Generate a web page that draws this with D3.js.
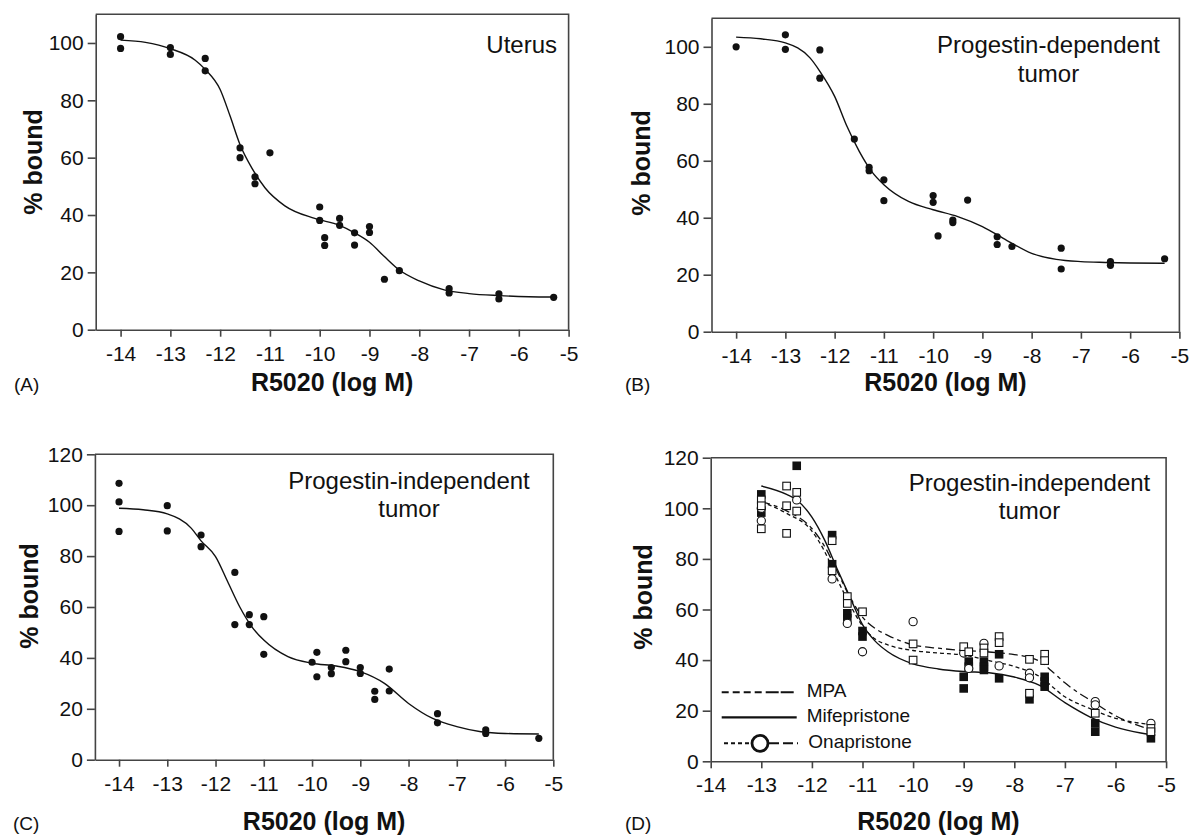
<!DOCTYPE html>
<html><head><meta charset="utf-8">
<script src="https://cdn.jsdelivr.net/npm/d3@7"></script>
<style>
body{margin:0;background:#fff}
text{font-family:"Liberation Sans",Arial,Helvetica,sans-serif;fill:#111}
</style>
</head><body>
<svg id="chart" width="1190" height="835"></svg>
<script>
// ---------------- data ----------------
const xTickValues = [-14,-13,-12,-11,-10,-9,-8,-7,-6,-5];
const yTicks100 = [0,20,40,60,80,100];
const yTicks120 = [0,20,40,60,80,100,120];
const xTitle = "R5020 (log M)";
const yTitle = "% bound";

const uterusPoints = [[-14,102.2],[-14,98.1],[-13,98.4],[-13,96.0],[-12.3,94.6],[-12.3,90.3],
 [-11.6,63.4],[-11.6,60.0],[-11.3,53.3],[-11.3,50.9],[-11,61.7],[-10,42.8],[-10,38.1],
 [-9.9,32.1],[-9.9,29.4],[-9.6,38.8],[-9.6,36.4],[-9.3,33.8],[-9.3,29.5],[-9,36.0],[-9,33.9],
 [-8.7,17.6],[-8.4,20.6],[-7.4,14.3],[-7.4,12.8],[-6.4,12.5],[-6.4,10.7],[-5.3,11.3]];
const uterusCurve = [[-14,101.0],[-13.5,100.2],[-13,98.0],[-12.5,94.0],[-12.3,90.8],[-12.0,83.8],
 [-11.8,74.5],[-11.6,64.5],[-11.35,56],[-11.1,49.5],[-10.7,43.2],[-10.1,38.8],[-9.6,36.4],
 [-9.3,33.8],[-9.0,30.5],[-8.7,25.5],[-8.4,20.8],[-8.0,17.0],[-7.5,13.9],[-7.0,12.6],[-6.4,11.9],
 [-5.8,11.5],[-5.3,11.4]];

const pdPoints = [[-14,100],[-13,104.2],[-13,99.1],[-12.3,98.9],[-12.3,89.0],[-11.6,67.6],
 [-11.3,57.7],[-11.3,56.5],[-11,53.3],[-11,46.0],[-10,47.8],[-10,45.4],[-9.9,33.6],[-9.6,39.2],
 [-9.6,38.3],[-9.3,46.2],[-8.7,33.3],[-8.7,30.6],[-8.4,29.9],[-7.4,29.3],[-7.4,22.0],[-6.4,24.6],
 [-6.4,23.3],[-5.3,25.6]];
const pdCurve = [[-14,103.4],[-13.5,102.8],[-13,101.4],[-12.5,96.1],[-12.3,91.4],[-12,82.6],
 [-11.75,72.1],[-11.5,63.3],[-11.25,56.3],[-11,51.6],[-10.5,45.7],[-10,42.8],[-9.5,40.4],
 [-9,36.9],[-8.5,32.0],[-8,27.5],[-7.5,25.4],[-7,24.6],[-6.5,24.3],[-6,24.1],[-5.3,24.0]];

const piPoints = [[-14,108.6],[-14,101.3],[-14,89.7],[-13,99.8],[-13,89.9],[-12.3,88.3],[-12.3,83.7],
 [-11.6,73.6],[-11.6,53.1],[-11.3,57.0],[-11.3,53.1],[-11,56.2],[-11,41.4],[-10,38.3],[-9.9,42.2],
 [-9.9,32.6],[-9.6,36.2],[-9.6,33.8],[-9.3,43.0],[-9.3,38.5],[-9,36.2],[-9,33.9],[-8.7,26.9],
 [-8.7,23.7],[-8.4,35.6],[-8.4,27.0],[-7.4,18.1],[-7.4,14.5],[-6.4,11.7],[-6.4,10.3],[-5.3,8.4]];
const piCurve = [[-14,98.8],[-13.5,98.2],[-13,96.6],[-12.5,90.9],[-12.3,86.0],[-12,79.8],
 [-11.75,70.0],[-11.5,60.1],[-11.25,52.3],[-11,47.0],[-10.5,40.5],[-10,37.9],[-9.5,36.8],
 [-9,34.6],[-8.5,30.0],[-8,22.1],[-7.5,16.2],[-7,13.0],[-6.5,11.0],[-6,10.3],[-5.3,10.1]];

// panel D: three competitors
const mpaPoints = [[-13,103.3],[-13,101],[-13,91.9],[-12.5,108.8],[-12.5,101],[-12.5,90.1],
 [-12.3,106.3],[-12.3,98.9],[-11.6,87.2],[-11.6,75.3],[-11.3,65.1],[-11.3,62.4],[-11,59.1],
 [-10,46.4],[-10,40.0],[-9,45.3],[-8.9,43.3],[-8.6,44.8],[-8.6,42.8],[-8.3,49.3],[-8.3,46.9],
 [-7.7,40.3],[-7.7,26.9],[-7.4,42.3],[-7.4,39.8],[-6.4,19.0],[-5.3,13.0],[-5.3,11.7]];
const mifPoints = [[-13,105.5],[-13,98.3],[-12.3,116.8],[-11.6,89.4],[-11.6,77.9],[-11.3,58.5],
 [-11.3,56.5],[-11,51.5],[-11,49.3],[-9,33.4],[-9,28.8],[-8.9,39.4],[-8.9,37.4],[-8.6,39.4],
 [-8.6,37.4],[-8.6,36.1],[-8.3,42.3],[-8.3,32.8],[-7.7,24.5],[-7.4,33.4],[-7.4,31.5],[-7.4,29.5],
 [-6.4,15.0],[-6.4,11.7],[-5.3,9.1]];
const onaPoints = [[-13,100],[-13,95.1],[-12.3,103.3],[-11.6,72.1],[-11.3,54.5],[-11,43.3],
 [-10,55.2],[-9,42.8],[-8.9,36.7],[-8.6,46.6],[-8.3,37.7],[-7.7,34.8],[-7.7,33.0],[-6.4,23.6],
 [-6.4,22.3],[-5.3,15.0]];
const mifCurve = [[-13,108.8],[-12.5,105.5],[-12.3,103.3],[-12,96.5],[-11.75,87.5],[-11.5,76],
 [-11.25,65],[-11,54],[-10.75,47.5],[-10.5,43.3],[-10,38.5],[-9.5,36.5],[-9,35.5],[-8.5,35.0],
 [-8,33.3],[-7.5,30.0],[-7,23.2],[-6.5,17.5],[-6,13.5],[-5.5,11.2],[-5.3,10.6]];
const mpaCurve = [[-13,102.6],[-12.5,99.0],[-12,92.0],[-11.75,85],[-11.5,75],[-11.25,65],
 [-11,57],[-10.75,52.5],[-10.5,49.8],[-10,46.0],[-9.5,44.7],[-9,43.8],[-8.5,43.2],[-8,42.2],
 [-7.75,41.3],[-7.5,39.5],[-7.25,35.5],[-7,31.0],[-6.75,27.3],[-6.5,24.2],[-6,18.0],[-5.5,13.8],
 [-5.3,12.7]];
const onaCurve = [[-13,102.6],[-12.5,98.0],[-12,91.0],[-11.75,83],[-11.5,72],[-11.25,62],
 [-11,53.5],[-10.75,48.3],[-10.5,46.0],[-10,43.8],[-9.5,42.8],[-9,42.0],[-8.5,39.8],[-8,37.5],
 [-7.5,33.5],[-7,25.5],[-6.5,20.8],[-6,17.0],[-5.5,15.0],[-5.3,14.5]];
const legendLabels = ["MPA","Mifepristone","Onapristone"];

// ---------------- drawing ----------------
const svg = d3.select("#chart");
const FONT = '"Liberation Sans",Arial,Helvetica,sans-serif';
const AX = "#444";
const fmt = d => String(d);   // plain hyphen-minus as in the original

function panel(cfg){
  const x = d3.scaleLinear().domain(cfg.xdom).range([cfg.left, cfg.right]);
  const y = d3.scaleLinear().domain([0, cfg.ymax]).range([cfg.bottom, cfg.top]);
  const g = svg.append("g");
  g.append("path")
    .attr("d", `M${cfg.left},${cfg.top}H${cfg.right}V${cfg.bottom}`)
    .attr("fill","none").attr("stroke",AX).attr("stroke-width",1.6);
  const ya = g.append("g").attr("transform",`translate(${cfg.left},0)`)
    .call(d3.axisLeft(y).tickValues(cfg.yticks).tickFormat(fmt).tickSize(8).tickPadding(4).tickSizeOuter(0));
  const xa = g.append("g").attr("transform",`translate(0,${cfg.bottom})`)
    .call(d3.axisBottom(x).tickValues(xTickValues).tickFormat(fmt).tickSize(7).tickPadding(9).tickSizeOuter(0));
  [ya, xa].forEach(a=>{
    a.attr("font-size",21).attr("font-family",FONT);
    a.selectAll("path,line").attr("stroke",AX).attr("stroke-width",1.6);
    a.selectAll("text").attr("fill","#111");
  });
  g.append("text").attr("x",(cfg.left+cfg.right)/2).attr("y",cfg.bottom+cfg.td)
    .attr("text-anchor","middle").attr("font-size",25).attr("font-weight","bold").text(xTitle);
  g.append("text").attr("transform",`translate(${cfg.ylx},${cfg.yly}) rotate(-90)`)
    .attr("text-anchor","middle").attr("font-size",25).attr("font-weight","bold").text(yTitle);
  g.append("text").attr("x",cfg.lx).attr("y",cfg.bottom+cfg.td).attr("font-size",19).text(cfg.letter);
  cfg.note.forEach((t,i)=>{
    g.append("text").attr("x",cfg.nx).attr("y",cfg.ny+i*28.3)
      .attr("text-anchor",cfg.nanchor).attr("font-size",24).text(t);
  });
  return {g,x,y};
}

const line = (x,y)=>d3.line().x(d=>x(d[0])).y(d=>y(d[1])).curve(d3.curveMonotoneX);

function simplePanel(cfg, pts, curve){
  const {g,x,y} = panel(cfg);
  g.append("path").datum(curve).attr("d", line(x,y)).attr("fill","none")
    .attr("stroke","#111").attr("stroke-width",1.4);
  g.selectAll("circle.pt").data(pts).join("circle").attr("class","pt")
    .attr("cx",d=>x(d[0])).attr("cy",d=>y(d[1])).attr("r",3.6).attr("fill","#111");
}

simplePanel({left:95.7,right:568.6,top:14.3,bottom:329.7,xdom:[-14.5,-5],ymax:110,yticks:yTicks100,td:61,
  ylx:42,yly:162,lx:14,letter:"(A)",note:["Uterus"],nx:557,ny:53,nanchor:"end"},
  uterusPoints, uterusCurve);
simplePanel({left:711.5,right:1179.4,top:18.3,bottom:331.7,xdom:[-14.5,-5],ymax:110,yticks:yTicks100,td:59,
  ylx:650,yly:163,lx:625,letter:"(B)",note:["Progestin-dependent","tumor"],nx:1048.5,ny:53.3,nanchor:"middle"},
  pdPoints, pdCurve);
simplePanel({left:94.9,right:553.3,top:454.3,bottom:759.7,xdom:[-14.5,-5],ymax:120,yticks:yTicks120,td:70,
  ylx:38,yly:596,lx:13,letter:"(C)",note:["Progestin-independent","tumor"],nx:409,ny:489,nanchor:"middle"},
  piPoints, piCurve);

// panel D
{
  const cfg = {left:710.7,right:1166.1,top:457.7,bottom:761.3,xdom:[-14,-5],ymax:120,yticks:yTicks120,td:68.5,
    ylx:652,yly:597,lx:625,letter:"(D)",note:["Progestin-independent","tumor"],nx:1029.5,ny:491,nanchor:"middle"};
  const {g,x,y} = panel(cfg);
  const L = line(x,y);
  g.append("path").datum(mifCurve).attr("d",L).attr("fill","none").attr("stroke","#111").attr("stroke-width",1.4);
  g.append("path").datum(mpaCurve).attr("d",L).attr("fill","none").attr("stroke","#111").attr("stroke-width",1.3)
    .attr("stroke-dasharray","9,4,4,4");
  g.append("path").datum(onaCurve).attr("d",L).attr("fill","none").attr("stroke","#111").attr("stroke-width",1.3)
    .attr("stroke-dasharray","4,3");
  const S = 8.6;
  g.selectAll("rect.mif").data(mifPoints).join("rect").attr("class","mif")
    .attr("x",d=>x(d[0])-S/2).attr("y",d=>y(d[1])-S/2).attr("width",S).attr("height",S).attr("fill","#111");
  g.selectAll("circle.ona").data(onaPoints).join("circle").attr("class","ona")
    .attr("cx",d=>x(d[0])).attr("cy",d=>y(d[1])).attr("r",4.1).attr("fill","#fff").attr("stroke","#111").attr("stroke-width",1.1);
  g.selectAll("rect.mpa").data(mpaPoints).join("rect").attr("class","mpa")
    .attr("x",d=>x(d[0])-S/2+0.5).attr("y",d=>y(d[1])-S/2+0.5).attr("width",S-1).attr("height",S-1)
    .attr("fill","#fff").attr("stroke","#111").attr("stroke-width",1.1);
  const lg = g.append("g");
  lg.append("path").attr("d","M721.7,692.3H796.7").attr("stroke","#111").attr("stroke-width",2)
    .attr("stroke-dasharray","7,4,7,4,7,4,7,4,13,2,13");
  lg.append("path").attr("d","M721.7,717.3H796.7").attr("stroke","#111").attr("stroke-width",2.2);
  lg.append("path").attr("d","M724,743.3H751").attr("stroke","#111").attr("stroke-width",2).attr("stroke-dasharray","4,3");
  lg.append("path").attr("d","M769,743.3H798").attr("stroke","#111").attr("stroke-width",2).attr("stroke-dasharray","10,4");
  lg.append("circle").attr("cx",760).attr("cy",743.3).attr("r",8).attr("fill","none").attr("stroke","#111").attr("stroke-width",2.8);
  const ly = [696.7,721.7,748];
  legendLabels.forEach((t,i)=>{
    lg.append("text").attr("x",i===2?808.3:806.7).attr("y",ly[i]).attr("font-size",19).text(t);
  });
}
</script>
</body></html>
